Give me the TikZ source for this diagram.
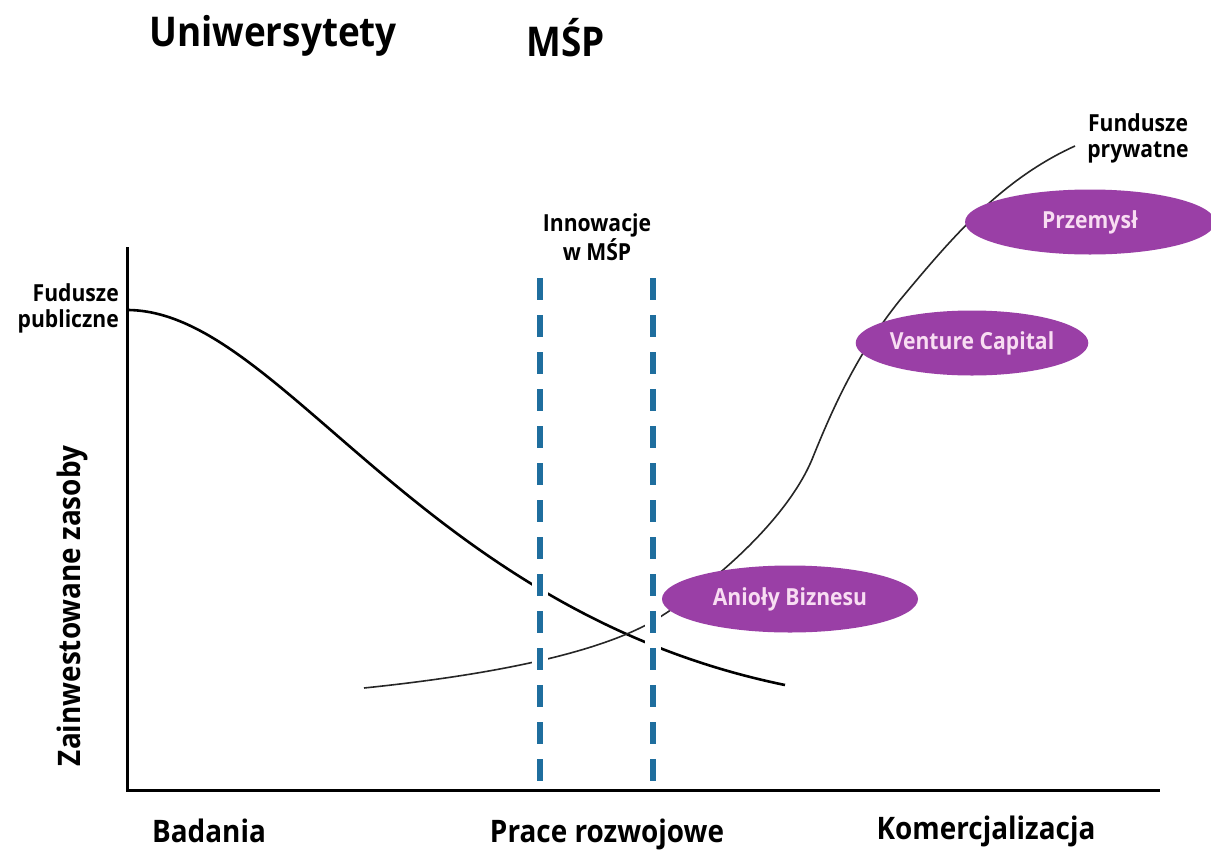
\documentclass[tikz,border=0pt]{standalone}
\usepackage{fontspec}
\setmainfont{Open Sans}[FakeStretch=0.9,BoldFont={* Bold},BoldFeatures={FakeStretch=0.9}]
\usetikzlibrary{shapes.geometric}
\definecolor{purp}{HTML}{9A3FA6}
\definecolor{pinktxt}{HTML}{F8DDF2}
\definecolor{dblue}{HTML}{1F6E9E}
\begin{document}
\begin{tikzpicture}[x=1pt,y=-1pt,
  lbl/.style={font=\bfseries\fontsize{23.5}{26}\selectfont,align=center,inner sep=0},
  axlbl/.style={font=\bfseries\fontsize{31}{34}\selectfont,inner sep=0},
  title/.style={font=\bfseries\fontsize{41}{44}\selectfont,inner sep=0},
  fund/.style={ellipse,fill=purp,text=pinktxt,font=\bfseries\fontsize{23.5}{26}\selectfont,inner sep=0},
  divider/.style={dblue,line width=5.5pt,dash pattern=on 22pt off 15pt},
  halo/.style={white,line width=16pt}]
\useasboundingbox (0,0) rectangle (1211,854);
\fill[white] (0,0) rectangle (1211,854);
% titles
\node[title] (uni) at (273,36) {Uniwersytety};
\node[title] (msp) at (566,38) {MŚP};
% axes
\coordinate (o) at (127,790);
\coordinate (ytop) at (127,247);
\coordinate (xend) at (1160,790);
\draw[line width=3pt] (ytop) -- (o) -- (xend);
% public funds curve
\coordinate (pubs) at (127,310);
\coordinate (pube) at (785,685);
\draw[line width=2.6pt] (pubs) .. controls (280,310) and (420,610) .. (pube);
% private funds curve
\coordinate (privs) at (364,688);
\coordinate (prive) at (1075,146);
\draw[line width=1.6pt,black!85] (privs) .. controls (480,676) and (600,655) .. (660,617)
  .. controls (720,579) and (790,515) .. (813,457)
  .. controls (836,400) and (860,350) .. (900,300)
  .. controls (950,240) and (1000,180) .. (prive);
% dashed lines
\coordinate (d1t) at (540,278);
\coordinate (d1b) at (540,785);
\coordinate (d2t) at (653,278);
\coordinate (d2b) at (653,785);
\draw[halo] (d1t) -- (d1b);
\draw[halo] (d2t) -- (d2b);
\draw[divider] (d1t) -- (d1b);
\draw[divider] (d2t) -- (d2b);
% ellipses
\node[fund,minimum width=256pt,minimum height=67pt] (ab) at (790,599) {Anioły Biznesu};
\node[fund,minimum width=230pt,minimum height=65pt] (vc) at (972,343) {Venture Capital};
\node[fund,minimum width=250pt,minimum height=65pt] (prz) at (1090,222) {Przemysł};
% labels
\node[lbl] (fpr) at (1138,138) {Fundusze\\prywatne};
\node[lbl] (inn) at (597,237) {Innowacje\\w MŚP};
\node[lbl,align=right,anchor=east] (fpub) at (119,308) {Fudusze\\publiczne};
\node[axlbl,rotate=90] (zz) at (72,606) {Zainwestowane zasoby};
\node[axlbl] (bad) at (209,831) {Badania};
\node[axlbl] (pr) at (607,834) {Prace rozwojowe};
\node[axlbl] (kom) at (986,831) {Komercjalizacja};
\end{tikzpicture}
\end{document}
